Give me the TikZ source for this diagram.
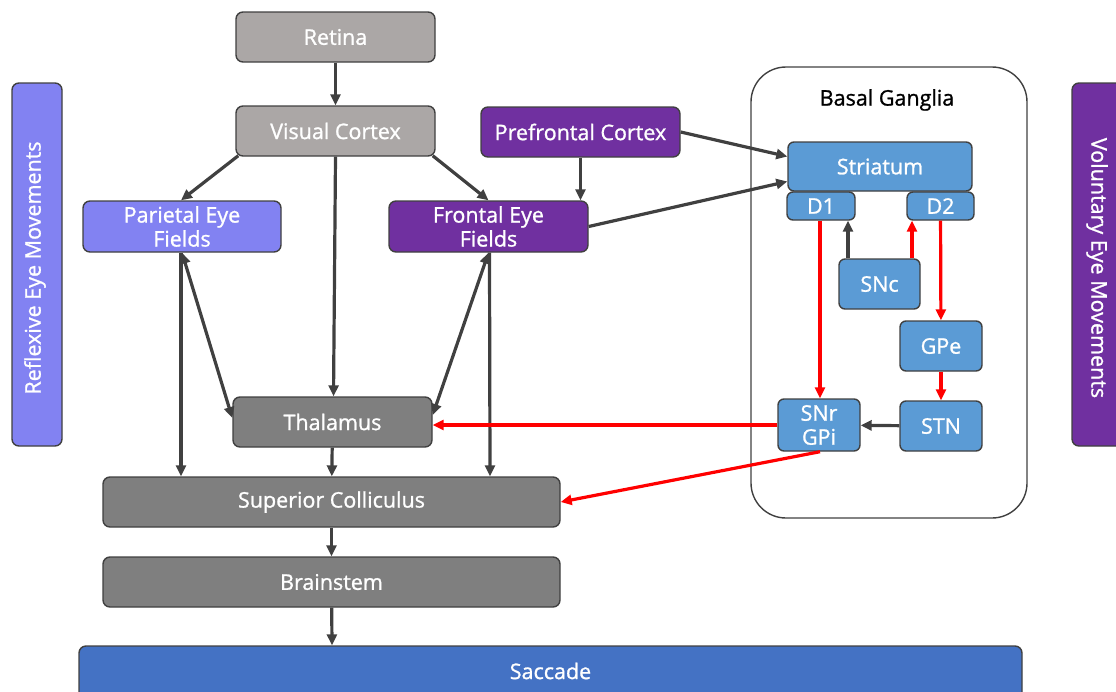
\documentclass[tikz,border=0pt]{standalone}
\usepackage{fontspec}
\setmainfont{Open Sans}[FakeBold=1.1]
\usetikzlibrary{arrows.meta,calc}
\definecolor{lgray}{HTML}{ABA7A6}
\definecolor{dgray}{HTML}{7F7F7F}
\definecolor{purp}{HTML}{7030A0}
\definecolor{lpurp}{HTML}{8282F2}
\definecolor{bgblue}{HTML}{5B9BD5}
\definecolor{sacblue}{HTML}{4472C4}
\definecolor{edge}{HTML}{404040}
\tikzset{
  lbl/.style={font=\fontsize{21.5}{24}\selectfont},
  box/.style={lbl, draw=edge, line width=1.4pt, rounded corners=7pt, text=white, align=center, inner sep=0pt},
  bgbox/.style={box, fill=bgblue, rounded corners=6pt},
  arr/.style={draw=edge, line width=3.2pt, -{Triangle[length=11pt,width=10pt]}},
  darr/.style={draw=edge, line width=3.2pt, {Triangle[length=11pt,width=10pt]}-{Triangle[length=11pt,width=10pt]}},
  rarr/.style={draw=red, line width=3.2pt, -{Triangle[length=11pt,width=10pt]}},
}
\begin{document}
\begin{tikzpicture}[x=1pt,y=-1pt]
\useasboundingbox (0,0) rectangle (1116,691);
\clip (0,0) rectangle (1116,691);
% side bars
\node[box, fill=lpurp, minimum width=50pt, minimum height=363pt] (refl) at (37,264.5) {};
\node[lbl, rotate=90, text=white] (refltxt) at (35,268) {Reflexive Eye Movements};
\node[box, fill=purp, minimum width=60pt, minimum height=363pt] (vol) at (1102,264.5) {};
\node[lbl, rotate=-90, text=white] (voltxt) at (1097,268) {Voluntary Eye Movements};
% basal ganglia frame
\node[draw=edge, line width=1.4pt, rounded corners=35pt, minimum width=276pt, minimum height=451pt, inner sep=0pt] (bg) at (889,292.5) {};
\node[lbl, text=black] (bglabel) at (887,100) {Basal Ganglia};
% main nodes
\node[box, fill=lgray, minimum width=199pt, minimum height=50pt] (ret) at (335.5,37) {Retina};
\node[box, fill=lgray, minimum width=199pt, minimum height=50pt] (vc) at (335.5,131) {Visual Cortex};
\node[box, fill=purp, minimum width=199pt, minimum height=50pt] (pfc) at (580.5,132) {Prefrontal Cortex};
\node[box, fill=lpurp, minimum width=198pt, minimum height=51pt] (pef) at (182,226.5) {Parietal Eye\\Fields};
\node[box, fill=purp, minimum width=199pt, minimum height=51pt] (fef) at (488.5,226.5) {Frontal Eye\\Fields};
\node[box, fill=dgray, minimum width=199pt, minimum height=50pt] (thal) at (332.5,422) {Thalamus};
\node[box, fill=dgray, minimum width=457pt, minimum height=50pt] (sc) at (331.5,502) {Superior Colliculus};
\node[box, fill=dgray, minimum width=457pt, minimum height=50pt] (bs) at (331.5,582) {Brainstem};
\node[box, fill=sacblue, minimum width=943pt, minimum height=60pt] (sac) at (550.5,676) {};
\node[lbl, text=white] (sactxt) at (550.5,671) {Saccade};
% basal ganglia nodes
\node[bgbox, minimum width=184pt, minimum height=49pt] (str) at (880,166.5) {Striatum};
\node[bgbox, minimum width=68pt, minimum height=28pt] (d1) at (821,206) {D1};
\node[bgbox, minimum width=67pt, minimum height=28pt] (d2) at (940.5,206) {D2};
\node[bgbox, minimum width=81pt, minimum height=50pt] (snc) at (879.5,284) {SNc};
\node[bgbox, minimum width=82pt, minimum height=50pt] (gpe) at (941,346) {GPe};
\node[bgbox, minimum width=82pt, minimum height=50pt] (stn) at (941,426) {STN};
\node[bgbox, minimum width=82pt, minimum height=52pt] (snr) at (819,425) {SNr\\GPi};
% black connectors
\draw[arr] (ret) -- (vc);
\draw[arr] ($(vc.south west)+(3,-1)$) -- ($(pef.north)+(-1,0)$);
\draw[arr] ($(vc.south east)+(-3,-1)$) -- (fef.north);
\draw[arr] (vc.south) -- ($(thal.north)+(1,0)$);
\draw[arr] (pfc) -- ($(fef.north)+(92,0)$ |- fef.north);
\draw[arr] (pfc.east) -- ($(str.west)+(0,-10)$);
\draw[arr] (fef.east) -- ($(str.west)+(0,15)$);
\draw[darr] (pef.south) -- ($(thal.west)+(0,-4)$);
\draw[arr] ($(pef.south)+(-1,0)$) -- ($(sc.north)+(-150.5,0)$);
\draw[darr] (fef.south) -- ($(thal.east)+(0,-7)$);
\draw[arr] ($(fef.south)+(1,0)$) -- ($(sc.north)+(158.5,0)$);
\draw[arr] (thal) -- (sc);
\draw[arr] (sc) -- (bs);
\draw[arr] (bs) -- ($(sac.north)+(-218.5,0)$);
\draw[arr] ($(snc.north)+(-31.5,0)$) -- ($(d1.south)+(27,0)$);
\draw[arr] (stn) -- (snr);
% red connectors
\draw[rarr] (snr.west) -- ($(thal.east)+(0,3)$);
\draw[rarr] ($(snr.south)+(1,0)$) -- (sc.east);
\draw[rarr] ($(d1.south)+(-1,0)$) -- ($(snr.north)+(1,0)$);
\draw[rarr] ($(snc.north)+(32.5,0)$) -- ($(d2.south)+(-28.5,0)$);
\draw[rarr] (d2) -- (gpe);
\draw[rarr] (gpe) -- (stn);
\end{tikzpicture}
\end{document}
